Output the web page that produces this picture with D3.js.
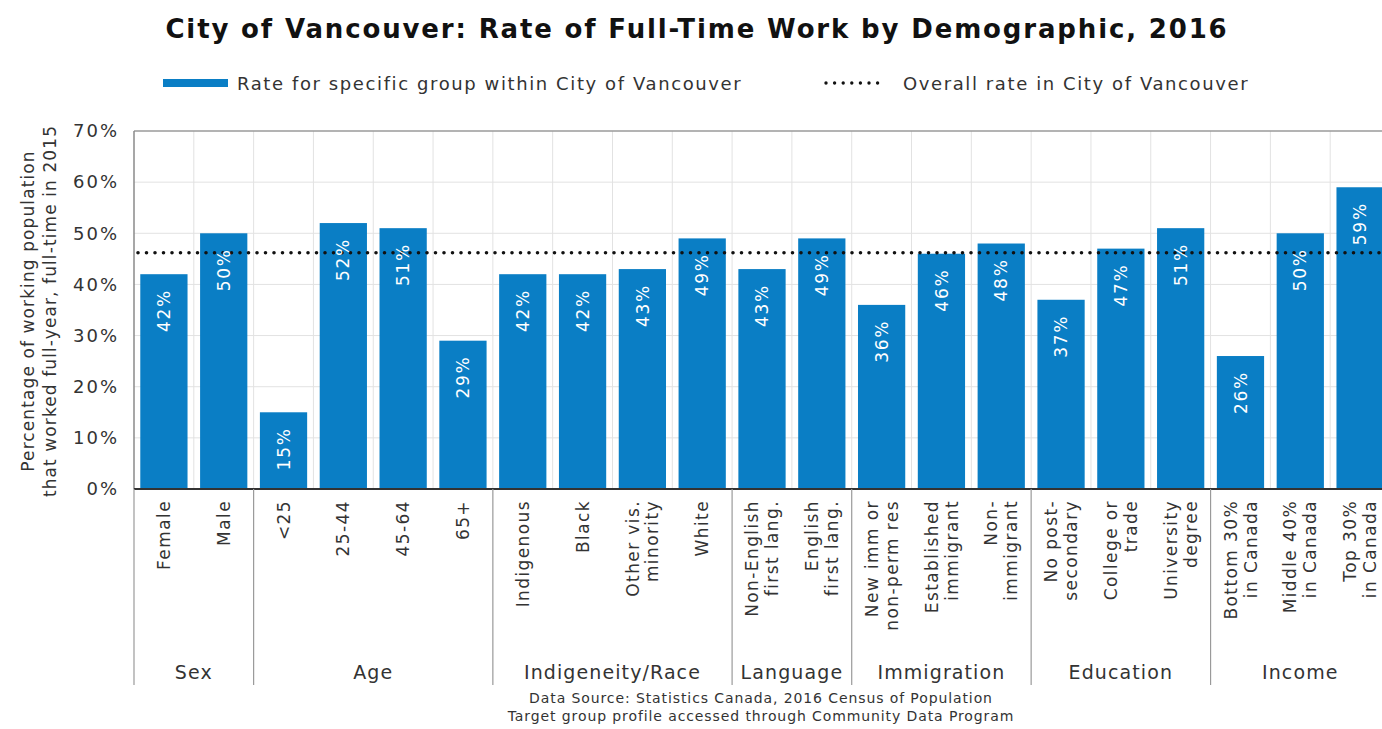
<!DOCTYPE html>
<html>
<head>
<meta charset="utf-8">
<script src="https://cdn.jsdelivr.net/npm/d3@7"></script>
<style>
  html, body { margin: 0; padding: 0; background: #fff; }
  svg { display: block; }
  text { font-family: "DejaVu Sans", sans-serif; }
</style>
</head>
<body>
<svg id="chart" width="1382" height="729"></svg>
<script>
// Categories (each line of a label is its own entry)
const categories = [
  ["Female"], ["Male"],
  ["<25"], ["25-44"], ["45-64"], ["65+"],
  ["Indigenous"], ["Black"], ["Other vis.", "minority"], ["White"],
  ["Non-English", "first lang."], ["English", "first lang."],
  ["New imm or", "non-perm res"], ["Established", "immigrant"], ["Non-", "immigrant"],
  ["No post-", "secondary"], ["College or", "trade"], ["University", "degree"],
  ["Bottom 30%", "in Canada"], ["Middle 40%", "in Canada"], ["Top 30%", "in Canada"]
];
// Full-time, full-year rate (%) for each group
const rates = [42, 50, 15, 52, 51, 29, 42, 42, 43, 49, 43, 49, 36, 46, 48, 37, 47, 51, 26, 50, 59];
// Groups: name and number of categories in each
const groups = ["Sex", "Age", "Indigeneity/Race", "Language", "Immigration", "Education", "Income"];
const groupSizes = [2, 4, 4, 2, 3, 3, 3];
const overallRate = 46.2;
const yTicks = [0, 10, 20, 30, 40, 50, 60, 70];

const BLUE = "#0a7ec5";
const TEXT = "#333";
const svg = d3.select("#chart");

const plotLeft = 134, plotRight = 1390, plotTop = 131, plotBottom = 489;
const x = d3.scaleBand().domain(d3.range(categories.length)).range([plotLeft, plotRight]).paddingInner(0.21).paddingOuter(0.105);
const xEdge = d3.scaleLinear().domain([0, categories.length]).range([plotLeft, plotRight]);
const y = d3.scaleLinear().domain([0, 70]).range([plotBottom, plotTop]);

// Title
svg.append("text").attr("x", 697).attr("y", 38).attr("text-anchor", "middle")
  .attr("font-size", 26).attr("font-weight", "bold").attr("letter-spacing", 1.85).attr("fill", "#111")
  .text("City of Vancouver: Rate of Full-Time Work by Demographic, 2016");

// Legend
svg.append("rect").attr("x", 163).attr("y", 79).attr("width", 65).attr("height", 8).attr("fill", BLUE);
svg.append("text").attr("x", 237).attr("y", 89.5).attr("font-size", 18).attr("letter-spacing", 1.6).attr("fill", TEXT)
  .text("Rate for specific group within City of Vancouver");
svg.append("line").attr("x1", 826).attr("x2", 886).attr("y1", 83).attr("y2", 83)
  .attr("stroke", "#111").attr("stroke-width", 3.4).attr("stroke-linecap", "round")
  .attr("stroke-dasharray", "0 8.6");
svg.append("text").attr("x", 903).attr("y", 89.5).attr("font-size", 18).attr("letter-spacing", 1.6).attr("fill", TEXT)
  .text("Overall rate in City of Vancouver");

// Horizontal gridlines
svg.append("g").selectAll("line").data(yTicks.filter(d => d > 0 && d < 70)).join("line")
  .attr("x1", plotLeft).attr("x2", 1382).attr("y1", d => y(d)).attr("y2", d => y(d))
  .attr("stroke", "#e2e2e2").attr("stroke-width", 1);
// Vertical gridlines between categories
svg.append("g").selectAll("line").data(d3.range(1, categories.length)).join("line")
  .attr("x1", d => xEdge(d)).attr("x2", d => xEdge(d)).attr("y1", plotTop).attr("y2", plotBottom)
  .attr("stroke", "#e2e2e2").attr("stroke-width", 1);

// Top frame line
svg.append("line").attr("x1", plotLeft).attr("x2", 1382).attr("y1", y(70)).attr("y2", y(70))
  .attr("stroke", "#9a9a9a").attr("stroke-width", 1.5);

// Y axis
const yAxis = d3.axisLeft(y).tickValues(yTicks).tickFormat(d => d + "%").tickSize(0).tickPadding(15);
const gy = svg.append("g").attr("transform", `translate(${plotLeft},0)`).call(yAxis);
gy.select(".domain").remove();
gy.selectAll("text").attr("font-size", 18).attr("letter-spacing", 2).attr("fill", TEXT)
  .attr("font-family", "DejaVu Sans, sans-serif");

// Y axis title
const yt = svg.append("text").attr("transform", "translate(34,311) rotate(-90)")
  .attr("text-anchor", "middle").attr("font-size", 17).attr("letter-spacing", 1.1).attr("fill", TEXT);
yt.append("tspan").attr("x", 0).attr("dy", 0).text("Percentage of working population");
yt.append("tspan").attr("x", 0).attr("dy", 22).text("that worked full-year, full-time in 2015");

// Bars
svg.append("g").selectAll("rect").data(rates).join("rect")
  .attr("x", (d, i) => x(i)).attr("width", x.bandwidth())
  .attr("y", d => y(d)).attr("height", d => y(0) - y(d))
  .attr("fill", BLUE);

// Overall rate dotted line
svg.append("line").attr("x1", plotLeft + 4).attr("x2", 1382).attr("y1", y(overallRate)).attr("y2", y(overallRate))
  .attr("stroke", "#111").attr("stroke-width", 3.6).attr("stroke-linecap", "round")
  .attr("stroke-dasharray", "0 8.5");

// Value labels inside bars
svg.append("g").selectAll("text").data(rates).join("text")
  .attr("transform", (d, i) => `translate(${x(i) + x.bandwidth() / 2},${y(d) + 15}) rotate(-90)`)
  .attr("text-anchor", "end").attr("dy", "0.36em")
  .attr("font-size", 17).attr("letter-spacing", 1.7).attr("fill", "#fff")
  .text(d => d + "%");

// Left frame and baseline
svg.append("line").attr("x1", plotLeft).attr("x2", plotLeft).attr("y1", plotTop).attr("y2", plotBottom)
  .attr("stroke", "#8a8a8a").attr("stroke-width", 1.5);
svg.append("line").attr("x1", plotLeft).attr("x2", 1382).attr("y1", plotBottom).attr("y2", plotBottom)
  .attr("stroke", "#333").attr("stroke-width", 2);

// Category labels
const cat = svg.append("g").selectAll("text").data(categories).join("text")
  .attr("transform", (d, i) => `translate(${x(i) + x.bandwidth() / 2},500) rotate(-90)`)
  .attr("text-anchor", "end").attr("font-size", 17).attr("letter-spacing", 1.4).attr("fill", TEXT);
cat.each(function(lines) {
  const t = d3.select(this);
  const n = lines.length;
  lines.forEach((s, k) => {
    t.append("tspan").attr("x", 0).attr("y", (k - (n - 1) / 2) * 20).attr("dy", "0.36em").text(s);
  });
});

// Group dividers and names
const starts = [0];
groupSizes.forEach((s, i) => starts.push(starts[i] + s));
svg.append("g").selectAll("line").data(starts).join("line")
  .attr("x1", d => xEdge(d)).attr("x2", d => xEdge(d)).attr("y1", plotBottom).attr("y2", 685)
  .attr("stroke", "#9a9a9a").attr("stroke-width", 1.2);
svg.append("g").selectAll("text").data(groups).join("text")
  .attr("x", (d, i) => (xEdge(starts[i]) + xEdge(starts[i + 1])) / 2).attr("y", 679)
  .attr("text-anchor", "middle").attr("font-size", 19).attr("letter-spacing", 1.1).attr("fill", TEXT)
  .text(d => d);

// Source notes
svg.append("text").attr("x", 761).attr("y", 703).attr("text-anchor", "middle")
  .attr("font-size", 14).attr("letter-spacing", 0.9).attr("fill", TEXT)
  .text("Data Source: Statistics Canada, 2016 Census of Population");
svg.append("text").attr("x", 761).attr("y", 721).attr("text-anchor", "middle")
  .attr("font-size", 14).attr("letter-spacing", 0.9).attr("fill", TEXT)
  .text("Target group profile accessed through Community Data Program");
</script>
</body>
</html>
